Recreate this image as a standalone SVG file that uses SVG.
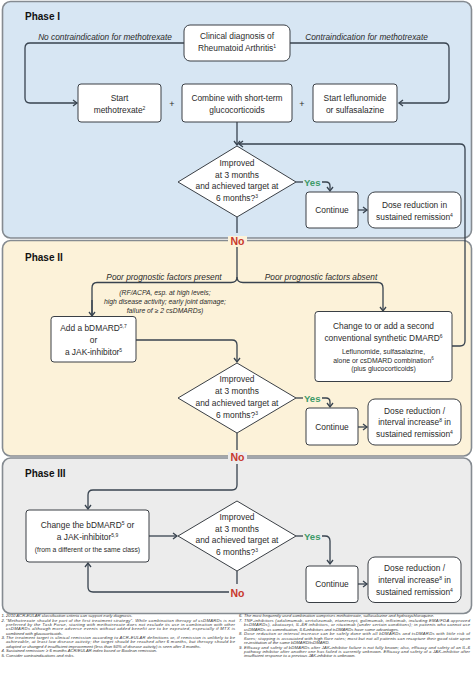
<svg xmlns="http://www.w3.org/2000/svg" width="474" height="678" viewBox="0 0 474 678">
<style>
text{font-family:"Liberation Sans",Arial,sans-serif;fill:#2b2b2b}
.t{font-size:8.4px;text-anchor:middle}
.s{font-size:6.9px;text-anchor:middle}
.si{font-size:6.8px;text-anchor:middle;font-style:italic}
.it{font-size:8.3px;text-anchor:middle;font-style:italic}
.ph{font-size:10px;font-weight:bold;fill:#111}
.yes{font-size:9.6px;font-weight:bold;fill:#3d9a68}
.no{font-size:10.5px;font-weight:bold;fill:#c8382c;text-anchor:middle}
.box{fill:#fff;stroke:#3a3f45;stroke-width:1}
.panel{stroke:#858b91;stroke-width:1.6}
.c{fill:none;stroke:#38434f;stroke-width:1.3}
.a{marker-end:url(#ah)}
.fn{font-size:4.2px;font-style:italic;fill:#333}
.sup{font-size:5px}
</style>
<defs>
<marker id="ah" markerWidth="8" markerHeight="8" refX="6" refY="4" orient="auto" markerUnits="userSpaceOnUse">
<path d="M2,1 L6,4 L2,7" fill="none" stroke="#38434f" stroke-width="1.3"/>
</marker>
</defs>

<g id="panels">
<rect id="phase1" class="panel" x="2.5" y="1.5" width="469" height="236.5" rx="8" fill="#d7e6f3"/>
<rect id="phase2" class="panel" x="2.5" y="240.5" width="469" height="215.5" rx="8" fill="#fcf2d9"/>
<rect id="phase3" class="panel" x="2.5" y="458" width="469" height="155.5" rx="8" fill="#ececec"/>
<text class="ph" x="25" y="19.5">Phase I</text>
<text class="ph" x="25" y="261">Phase II</text>
<text class="ph" x="25" y="477">Phase III</text>
</g>

<g id="connectors">
<path class="c a" d="M184,43 H30 Q25,43 25,48 V98 Q25,103 30,103 H77"/>
<path class="c a" d="M290,43 H444 Q449,43 449,48 V98 Q449,103 444,103 H399"/>
<path class="c a" d="M237,122 V145"/>
<path class="c a" d="M452,346 H460 Q465,346 465,341 V149 Q465,144 460,144 H239"/>
<path class="c" d="M296,182 H303"/>
<path class="c a" d="M322,182 H326 Q330,182 330,186 V191"/>
<path class="c a" d="M358,210 H367"/>
<path class="c" d="M237,217 V233"/>
<path class="c" d="M237,247 V277 Q237,282.5 231,282.5 H97 Q92,282.5 92,288 V316"/>
<path class="c a" d="M92,300 V316"/>
<path class="c a" d="M237,277 Q237,282.5 243,282.5 H378 Q383,282.5 383,288 V311"/>
<path class="c a" d="M136,340 H232 Q237,340 237,345 V362"/>
<path class="c" d="M296,398 H303"/>
<path class="c a" d="M322,398 H326 Q330,398 330,402 V407"/>
<path class="c a" d="M358,427 H367"/>
<path class="c" d="M237,433 V450"/>
<path class="c a" d="M237,464 V485 Q237,490 232,490 H93 Q88,490 88,495 V509"/>
<path class="c a" d="M149,536 H177"/>
<path class="c" d="M296,536 H303"/>
<path class="c a" d="M322,536 H325 Q330,536 330,541 V564"/>
<path class="c a" d="M358,584 H367"/>
<path class="c" d="M237,571 V584"/>
<path class="c a" d="M229,592 H93 Q88,592 88,587 V563"/>
</g>

<g id="labels">
<text class="it" x="105" y="40">No contraindication for methotrexate</text>
<text class="it" x="366.5" y="40">Contraindication for methotrexate</text>
<text class="t" x="172" y="106.5" style="font-size:9px">+</text>
<text class="t" x="302" y="106.5" style="font-size:9px">+</text>
<text class="yes" x="304" y="185.5">Yes</text>
<rect x="228" y="236" width="19" height="10" fill="#fcf2d9"/>
<text class="no" x="237.5" y="244.5">No</text>
<text class="it" x="164" y="279.5">Poor prognostic factors present</text>
<text class="it" x="321" y="279.5">Poor prognostic factors absent</text>
<text class="si" x="165" y="294.5">(RF/ACPA, esp. at high levels;</text>
<text class="si" x="165" y="303.5">high disease activity; early joint damage;</text>
<text class="si" x="165" y="312.5">failure of ≥ 2 csDMARDs)</text>
<text class="yes" x="304" y="402">Yes</text>
<rect x="228" y="452" width="19" height="10" fill="#ececec"/>
<text class="no" x="237.5" y="461">No</text>
<text class="yes" x="304" y="539.5">Yes</text>
<text class="no" x="237.5" y="597">No</text>
</g>

<g id="n-diagnosis">
<rect class="box" x="184" y="25" width="106" height="36" rx="6"/>
<text class="t" x="237" y="39">Clinical diagnosis of</text>
<text class="t" x="237" y="51">Rheumatoid Arthritis<tspan class="sup" dy="-3">1</tspan></text>
</g>
<g id="n-mtx">
<rect class="box" x="78" y="84" width="83" height="38" rx="3"/>
<text class="t" x="119.5" y="101">Start</text>
<text class="t" x="119.5" y="113">methotrexate<tspan class="sup" dy="-3">2</tspan></text>
</g>
<g id="n-gc">
<rect class="box" x="182" y="84" width="110" height="38" rx="3"/>
<text class="t" x="237" y="101">Combine with short-term</text>
<text class="t" x="237" y="113">glucocorticoids</text>
</g>
<g id="n-lef">
<rect class="box" x="313" y="84" width="84" height="38" rx="3"/>
<text class="t" x="355" y="101">Start leflunomide</text>
<text class="t" x="355" y="113">or sulfasalazine</text>
</g>
<g id="n-dec1">
<polygon class="box" points="237,146 296,182 237,217 178,182"/>
<text class="t" x="237" y="166">Improved</text>
<text class="t" x="237" y="177.5">at 3 months</text>
<text class="t" x="237" y="189">and achieved target at</text>
<text class="t" x="237" y="200.5">6 months?<tspan class="sup" dy="-3">3</tspan></text>
</g>
<g id="n-cont1">
<rect class="box" x="306" y="192" width="52" height="36" rx="3"/>
<text class="t" x="332" y="213">Continue</text>
</g>
<g id="n-dose1">
<rect class="box" x="368" y="192" width="93" height="36" rx="7"/>
<text class="t" x="414.5" y="208">Dose reduction in</text>
<text class="t" x="414.5" y="219.5">sustained remission<tspan class="sup" dy="-3">4</tspan></text>
</g>

<g id="n-bdmard">
<rect class="box" x="51" y="316.5" width="85" height="45.5" rx="3"/>
<text class="t" x="93.5" y="331">Add a bDMARD<tspan class="sup" dy="-3">5,7</tspan></text>
<text class="t" x="93.5" y="343">or</text>
<text class="t" x="93.5" y="355">a JAK-inhibitor<tspan class="sup" dy="-3">5</tspan></text>
</g>
<g id="n-csdmard">
<rect class="box" x="315" y="311.5" width="137" height="70" rx="3"/>
<text class="t" x="383.5" y="328.5">Change to or add a second</text>
<text class="t" x="383.5" y="341">conventional synthetic DMARD<tspan class="sup" dy="-3">6</tspan></text>
<text class="s" x="383.5" y="354">Leflunomide, sulfasalazine,</text>
<text class="s" x="383.5" y="362.5">alone or csDMARD combination<tspan class="sup" dy="-2.5" style="font-size:4.5px">6</tspan></text>
<text class="s" x="383.5" y="370.5">(plus glucocorticoids)</text>
</g>
<g id="n-dec2">
<polygon class="box" points="237,363 296,398 237,433 178,398"/>
<text class="t" x="237" y="382">Improved</text>
<text class="t" x="237" y="394">at 3 months</text>
<text class="t" x="237" y="406">and achieved target at</text>
<text class="t" x="237" y="418">6 months?<tspan class="sup" dy="-3">3</tspan></text>
</g>
<g id="n-cont2">
<rect class="box" x="306" y="408" width="52" height="37" rx="3"/>
<text class="t" x="332" y="430">Continue</text>
</g>
<g id="n-dose2">
<rect class="box" x="368" y="399" width="93" height="46" rx="7"/>
<text class="t" x="414.5" y="413.5">Dose reduction /</text>
<text class="t" x="414.5" y="425">interval increase<tspan class="sup" dy="-3">8</tspan><tspan dy="3"> in</tspan></text>
<text class="t" x="414.5" y="436.5">sustained remission<tspan class="sup" dy="-3">4</tspan></text>
</g>

<g id="n-change">
<rect class="box" x="26" y="510" width="123" height="52" rx="3"/>
<text class="t" x="87.5" y="528">Change the bDMARD<tspan class="sup" dy="-3">5</tspan><tspan dy="3"> or</tspan></text>
<text class="t" x="87.5" y="539.5">a JAK-inhibitor<tspan class="sup" dy="-3">5,9</tspan></text>
<text class="si" x="87.5" y="551.5" style="font-style:normal">(from a different or the same class)</text>
</g>
<g id="n-dec3">
<polygon class="box" points="237,501 296,536 237,571 178,536"/>
<text class="t" x="237" y="520">Improved</text>
<text class="t" x="237" y="531.5">at 3 months</text>
<text class="t" x="237" y="543">and achieved target at</text>
<text class="t" x="237" y="554.5">6 months?<tspan class="sup" dy="-3">3</tspan></text>
</g>
<g id="n-cont3">
<rect class="box" x="306" y="566" width="52" height="36.5" rx="3"/>
<text class="t" x="332" y="587">Continue</text>
</g>
<g id="n-dose3">
<rect class="box" x="368" y="557" width="93" height="45.5" rx="7"/>
<text class="t" x="414.5" y="571">Dose reduction /</text>
<text class="t" x="414.5" y="583">interval increase<tspan class="sup" dy="-3">8</tspan><tspan dy="3"> in</tspan></text>
<text class="t" x="414.5" y="594.5">sustained remission<tspan class="sup" dy="-3">4</tspan></text>
</g>

<g id="footnotes">
<text class="fn" x="1.5" y="617.3">1.</text>
<text class="fn" x="6" y="617.3">2010 ACR-EULAR classification criteria can support early diagnosis.</text>
<text class="fn" x="1.5" y="621.7">2.</text>
<text class="fn" x="6" y="621.7" textLength="229" lengthAdjust="spacing">“Methotrexate should be part of the first treatment strategy”. While combination therapy of csDMARDs is not</text>
<text class="fn" x="6" y="626" textLength="229" lengthAdjust="spacing">preferred by the Task Force, starting with methotrexate does not exclude its use in combination with other</text>
<text class="fn" x="6" y="630.4" textLength="229" lengthAdjust="spacing">csDMARDs although more adverse events without added benefit are to be expected, especially if MTX is</text>
<text class="fn" x="6" y="634.7">combined with glucocorticoids.</text>
<text class="fn" x="1.5" y="639.1">3.</text>
<text class="fn" x="6" y="639.1" textLength="229" lengthAdjust="spacing">The treatment target is clinical remission according to ACR-EULAR definitions or, if remission is unlikely to be</text>
<text class="fn" x="6" y="643.4" textLength="229" lengthAdjust="spacing">achievable, at least low disease activity; the target should be reached after 6 months, but therapy should be</text>
<text class="fn" x="6" y="647.8">adapted or changed if insufficient improvement (less than 50% of disease activity) is seen after 3 months.</text>
<text class="fn" x="1.5" y="652.1">4.</text>
<text class="fn" x="6" y="652.1">Sustained remission: ≥ 6 months ACR/EULAR index based or Boolean remission.</text>
<text class="fn" x="1.5" y="656.5">5.</text>
<text class="fn" x="6" y="656.5">Consider contraindications and risks.</text>

<text class="fn" x="239" y="617.2">6.</text>
<text class="fn" x="244" y="617.2">The most frequently used combination comprises methotrexate, sulfasalazine and hydroxychloroquine.</text>
<text class="fn" x="239" y="622">7.</text>
<text class="fn" x="244" y="622" textLength="226" lengthAdjust="spacing">TNF-inhibitors (adalimumab, certolizumab, etanercept, golimumab, infliximab, including EMA/FDA approved</text>
<text class="fn" x="244" y="626.3" textLength="226" lengthAdjust="spacing">bsDMARDs), abatacept, IL-6R inhibitors, or rituximab (under certain conditions); in patients who cannot use</text>
<text class="fn" x="244" y="630.6">csDMARDs as comedication, IL6-inhibitors and tsDMARDs have some advantages.</text>
<text class="fn" x="239" y="635.2">8.</text>
<text class="fn" x="244" y="635.2" textLength="226" lengthAdjust="spacing">Dose reduction or interval increase can be safely done with all bDMARDs and tsDMARDs with little risk of</text>
<text class="fn" x="244" y="639.6" textLength="226" lengthAdjust="spacing">flares; stopping is associated with high flare rates; most but not all patients can recapture their good state upon</text>
<text class="fn" x="244" y="643.9">re-institution of the same bDMARD/tsDMARD.</text>
<text class="fn" x="239" y="648.6">9.</text>
<text class="fn" x="244" y="648.6" textLength="226" lengthAdjust="spacing">Efficacy and safety of bDMARDs after JAK-inhibitor failure is not fully known; also, efficacy and safety of an IL-6</text>
<text class="fn" x="244" y="652.9" textLength="226" lengthAdjust="spacing">pathway inhibitor after another one has failed is currently unknown. Efficacy and safety of a JAK-inhibitor after</text>
<text class="fn" x="244" y="657.2">insufficient response to a previous JAK-inhibitor is unknown.</text>
</g>
</svg>
